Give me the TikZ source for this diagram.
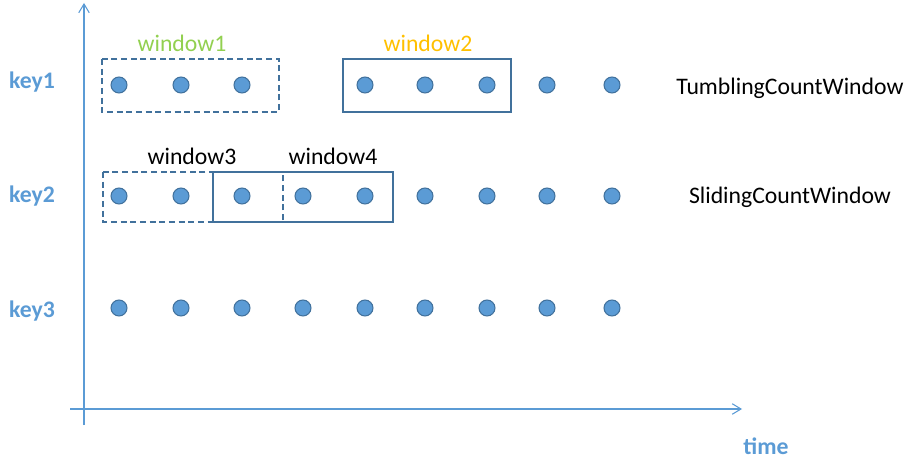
\documentclass[tikz,border=0pt]{standalone}
\usepackage{fontspec}
\setmainfont{Carlito}
\usetikzlibrary{arrows.meta}
\definecolor{axisblue}{RGB}{91,155,213}
\definecolor{edgeblue}{RGB}{65,113,156}
\definecolor{wingreen}{RGB}{146,208,80}
\definecolor{winorange}{RGB}{255,192,0}
\begin{document}
\begin{tikzpicture}[
       x=0.02cm, y=-0.02cm,
       font=\fontsize{13.5}{16}\selectfont,
       event/.style={
         circle,
         fill=axisblue,
         draw=edgeblue,
         line width=0.6pt,
         inner sep=0pt,
         minimum size=0.32cm
       },
       winbox/.style={draw=edgeblue, line width=0.6pt},
       dashbox/.style={winbox, dash pattern=on 3.5pt off 2pt},
       axis/.style={draw=axisblue, line width=0.6pt,
         -{Straight Barb[length=5pt,width=6pt]}},
       keylabel/.style={text=axisblue, font=\fontsize{13.5}{16}\selectfont\bfseries}
     ]
       \useasboundingbox (0,0) rectangle (915,465);

       % axes
       \coordinate (y0) at (84,425);
       \coordinate (y1) at (84,3);
       \coordinate (x0) at (70,409);
       \coordinate (x1) at (742,409);
       \draw[axis] (y0) -- (y1);
       \draw[axis] (x0) -- (x1);
       \node (time) at (766,446) [keylabel]{time};

       \node (k1) at (32,82) [keylabel]{key1};
       \node (k2) at (32,196) [keylabel]{key2};
       \node (k3) at (32,311) [keylabel]{key3};

       % key1
       \node (d11) at (119,85) [event]{};
       \node (d12) at (181,85) [event]{};
       \node (d13) at (242,85) [event]{};
       \node (d14) at (365,85) [event]{};
       \node (d15) at (425,85) [event]{};
       \node (d16) at (487,85) [event]{};
       \node (d17) at (547,85) [event]{};
       \node (d18) at (612,85) [event]{};

       % key2
       \node (d21) at (119,196) [event]{};
       \node (d22) at (181,196) [event]{};
       \node (d23) at (242,196) [event]{};
       \node (d24) at (303,196) [event]{};
       \node (d25) at (365,196) [event]{};
       \node (d26) at (425,196) [event]{};
       \node (d27) at (487,196) [event]{};
       \node (d28) at (547,196) [event]{};
       \node (d29) at (612,196) [event]{};

       % key3
       \node (d31) at (119,308) [event]{};
       \node (d32) at (181,308) [event]{};
       \node (d33) at (242,308) [event]{};
       \node (d34) at (303,308) [event]{};
       \node (d35) at (365,308) [event]{};
       \node (d36) at (425,308) [event]{};
       \node (d37) at (487,308) [event]{};
       \node (d38) at (547,308) [event]{};
       \node (d39) at (612,308) [event]{};

       % windows
       \draw[dashbox] (102,59) rectangle (279,112);
       \draw[winbox] (343,59) rectangle (511,112);
       \draw[dashbox] (103,172) rectangle (283,222);
       \draw[winbox] (213,172) rectangle (393,222);

       \node (w1) at (182,43) [text=wingreen]{window1};
       \node (w2) at (428,43) [text=winorange]{window2};
       \node (w3) at (192,156) {window3};
       \node (w4) at (333,156) {window4};

       \node (tcw) at (790,88) {TumblingCountWindow};
       \node (scw) at (790,197) {SlidingCountWindow};

\end{tikzpicture}
\end{document}
